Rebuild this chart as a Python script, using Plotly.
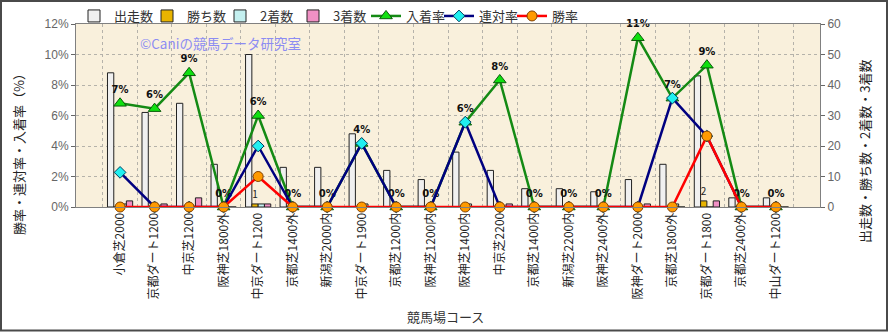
import plotly.graph_objects as go

courses = ["小倉芝2000", "京都ダート1200", "中京芝1200", "阪神芝1800外", "中京ダート1200",
           "京都芝1400外", "新潟芝2000内", "中京ダート1900", "京都芝1200内", "阪神芝1200内",
           "阪神芝1400内", "中京芝2200", "京都芝1400内", "新潟芝2200内", "阪神芝2400外",
           "阪神ダート2000", "京都芝1800外", "京都ダート1800", "京都芝2400外", "中山ダート1200"]

starts = [44, 31, 34, 14, 50, 13, 13, 24, 12, 9, 18, 12, 6, 6, 5, 9, 14, 43, 3, 3]
wins   = [0, 0, 0, 0, 1, 0, 0, 0, 0, 0, 0, 0, 0, 0, 0, 0, 0, 2, 0, 0]
second = [1, 0, 0, 0, 1, 0, 0, 1, 0, 0, 1, 0, 0, 0, 0, 0, 1, 0, 0, 0]
third  = [2, 1, 3, 0, 1, 0, 0, 0, 0, 0, 0, 1, 0, 0, 0, 1, 0, 2, 0, 0]

place_rate = [0.068, 0.0645, 0.088, 0, 0.060, 0, 0, 0.0417, 0, 0,
              0.0556, 0.0833, 0, 0, 0, 0.111, 0.0714, 0.093, 0, 0]
quin_rate  = [0.0227, 0, 0, 0, 0.040, 0, 0, 0.0417, 0, 0,
              0.0556, 0, 0, 0, 0, 0, 0.0714, 0.0465, 0, 0]
win_rate   = [0, 0, 0, 0, 0.020, 0, 0, 0, 0, 0,
              0, 0, 0, 0, 0, 0, 0, 0.0465, 0, 0]

FONT = "Noto Sans CJK JP"
W, H = 889, 332
L, R, T, B = 76, 69, 24, 125
PW, PH = W - L - R, H - T - B


def px(x):
    return (x - L) / PW


def py(y):
    return (T + PH - y) / PH


fig = go.Figure()

bar_line = dict(color="#222222", width=1)
fig.add_trace(go.Bar(x=courses, y=starts, name="出走数", yaxis="y",
                     marker=dict(color="#F0F0F0", line=bar_line)))
fig.add_trace(go.Bar(x=courses, y=wins, name="勝ち数", yaxis="y",
                     marker=dict(color="#E8B400", line=bar_line),
                     text=[str(v) if v else "" for v in wins], textposition="outside",
                     textfont=dict(size=10, color="#222", family=FONT), cliponaxis=False))
fig.add_trace(go.Bar(x=courses, y=second, name="2着数", yaxis="y",
                     marker=dict(color="#C4F0F0", line=bar_line)))
fig.add_trace(go.Bar(x=courses, y=third, name="3着数", yaxis="y",
                     marker=dict(color="#F090C4", line=bar_line)))

fig.add_trace(go.Scatter(x=courses, y=place_rate, name="入着率", yaxis="y2",
                         mode="lines+markers+text",
                         line=dict(color="#148A14", width=2.5),
                         marker=dict(symbol="triangle-up", size=11, color="#10E010",
                                     line=dict(color="#0A5A0A", width=1)),
                         texttemplate="%{y:.0%}", textposition="top center",
                         textfont=dict(size=10, color="#111", family="DejaVu Sans", weight="bold"),
                         cliponaxis=False))
fig.add_trace(go.Scatter(x=courses, y=quin_rate, name="連対率", yaxis="y2",
                         mode="lines+markers",
                         line=dict(color="#000080", width=2.5),
                         marker=dict(symbol="diamond", size=9, color="#20F0F0",
                                     line=dict(color="#004060", width=1)),
                         cliponaxis=False))
fig.add_trace(go.Scatter(x=courses, y=win_rate, name="勝率", yaxis="y2",
                         mode="lines+markers",
                         line=dict(color="#FF0000", width=2.5),
                         marker=dict(symbol="circle", size=10, color="#FF9A00",
                                     line=dict(color="#804000", width=1)),
                         cliponaxis=False))

grid = dict(showgrid=True, gridcolor="#B5B2AA", griddash="dot", gridwidth=1)

fig.update_layout(
    width=W, height=H,
    margin=dict(l=L, r=R, t=T, b=B, autoexpand=False),
    paper_bgcolor="#FFFFFF",
    plot_bgcolor="#F9F0DC",
    font=dict(family=FONT, size=12, color="#333"),
    barmode="group", bargap=0.27, bargroupgap=0.0,
    showlegend=True,
    legend=dict(orientation="h", x=px(74), y=py(1), xanchor="left", yanchor="top",
                font=dict(size=13, color="#333", family=FONT), bgcolor="rgba(0,0,0,0)",
                itemwidth=30, entrywidth=28, entrywidthmode="pixels", tracegroupgap=0),
    xaxis=dict(type="category", tickson="boundaries", tickangle=-90,
               tickfont=dict(size=12, color="#222", family=FONT),
               showline=True, linecolor="#808080", linewidth=1, mirror=True,
               ticks="", **grid),
    yaxis=dict(side="right", range=[0, 60], dtick=10,
               tickfont=dict(size=12, color="#666", family="Liberation Sans"),
               showline=True, linecolor="#808080", linewidth=1,
               ticks="outside", ticklen=4, tickcolor="#666", zeroline=False, **grid),
    yaxis2=dict(overlaying="y", side="left", range=[0, 0.12], dtick=0.02, tickformat=".0%",
                tickfont=dict(size=12, color="#666", family="Liberation Sans"),
                showline=True, linecolor="#808080", linewidth=1,
                ticks="outside", ticklen=4, tickcolor="#666",
                showgrid=False, zeroline=False),
    annotations=[
        dict(text="©Caniの競馬データ研究室", xref="paper", yref="paper",
             x=px(138), y=py(43), xanchor="left", yanchor="middle", showarrow=False,
             font=dict(size=13.5, color="#8C8CF2", family=FONT)),
        dict(text="勝率・連対率・入着率（%）", xref="paper", yref="paper",
             x=px(18), y=py(151), xanchor="center", yanchor="middle", showarrow=False,
             textangle=-90, font=dict(size=13, color="#222", family=FONT)),
        dict(text="出走数・勝ち数・2着数・3着数", xref="paper", yref="paper",
             x=px(864), y=py(152), xanchor="center", yanchor="middle", showarrow=False,
             textangle=-90, font=dict(size=13, color="#222", family=FONT)),
        dict(text="競馬場コース", xref="paper", yref="paper",
             x=px(445), y=py(316), xanchor="center", yanchor="middle", showarrow=False,
             font=dict(size=13, color="#333", family=FONT)),
    ],
    shapes=[
        dict(type="rect", xref="paper", yref="paper",
             x0=px(1), x1=px(887), y0=py(1), y1=py(330.5),
             line=dict(color="#4A4A4A", width=2), fillcolor="rgba(0,0,0,0)", layer="above"),
    ],
)

fig.write_html("out.html")
